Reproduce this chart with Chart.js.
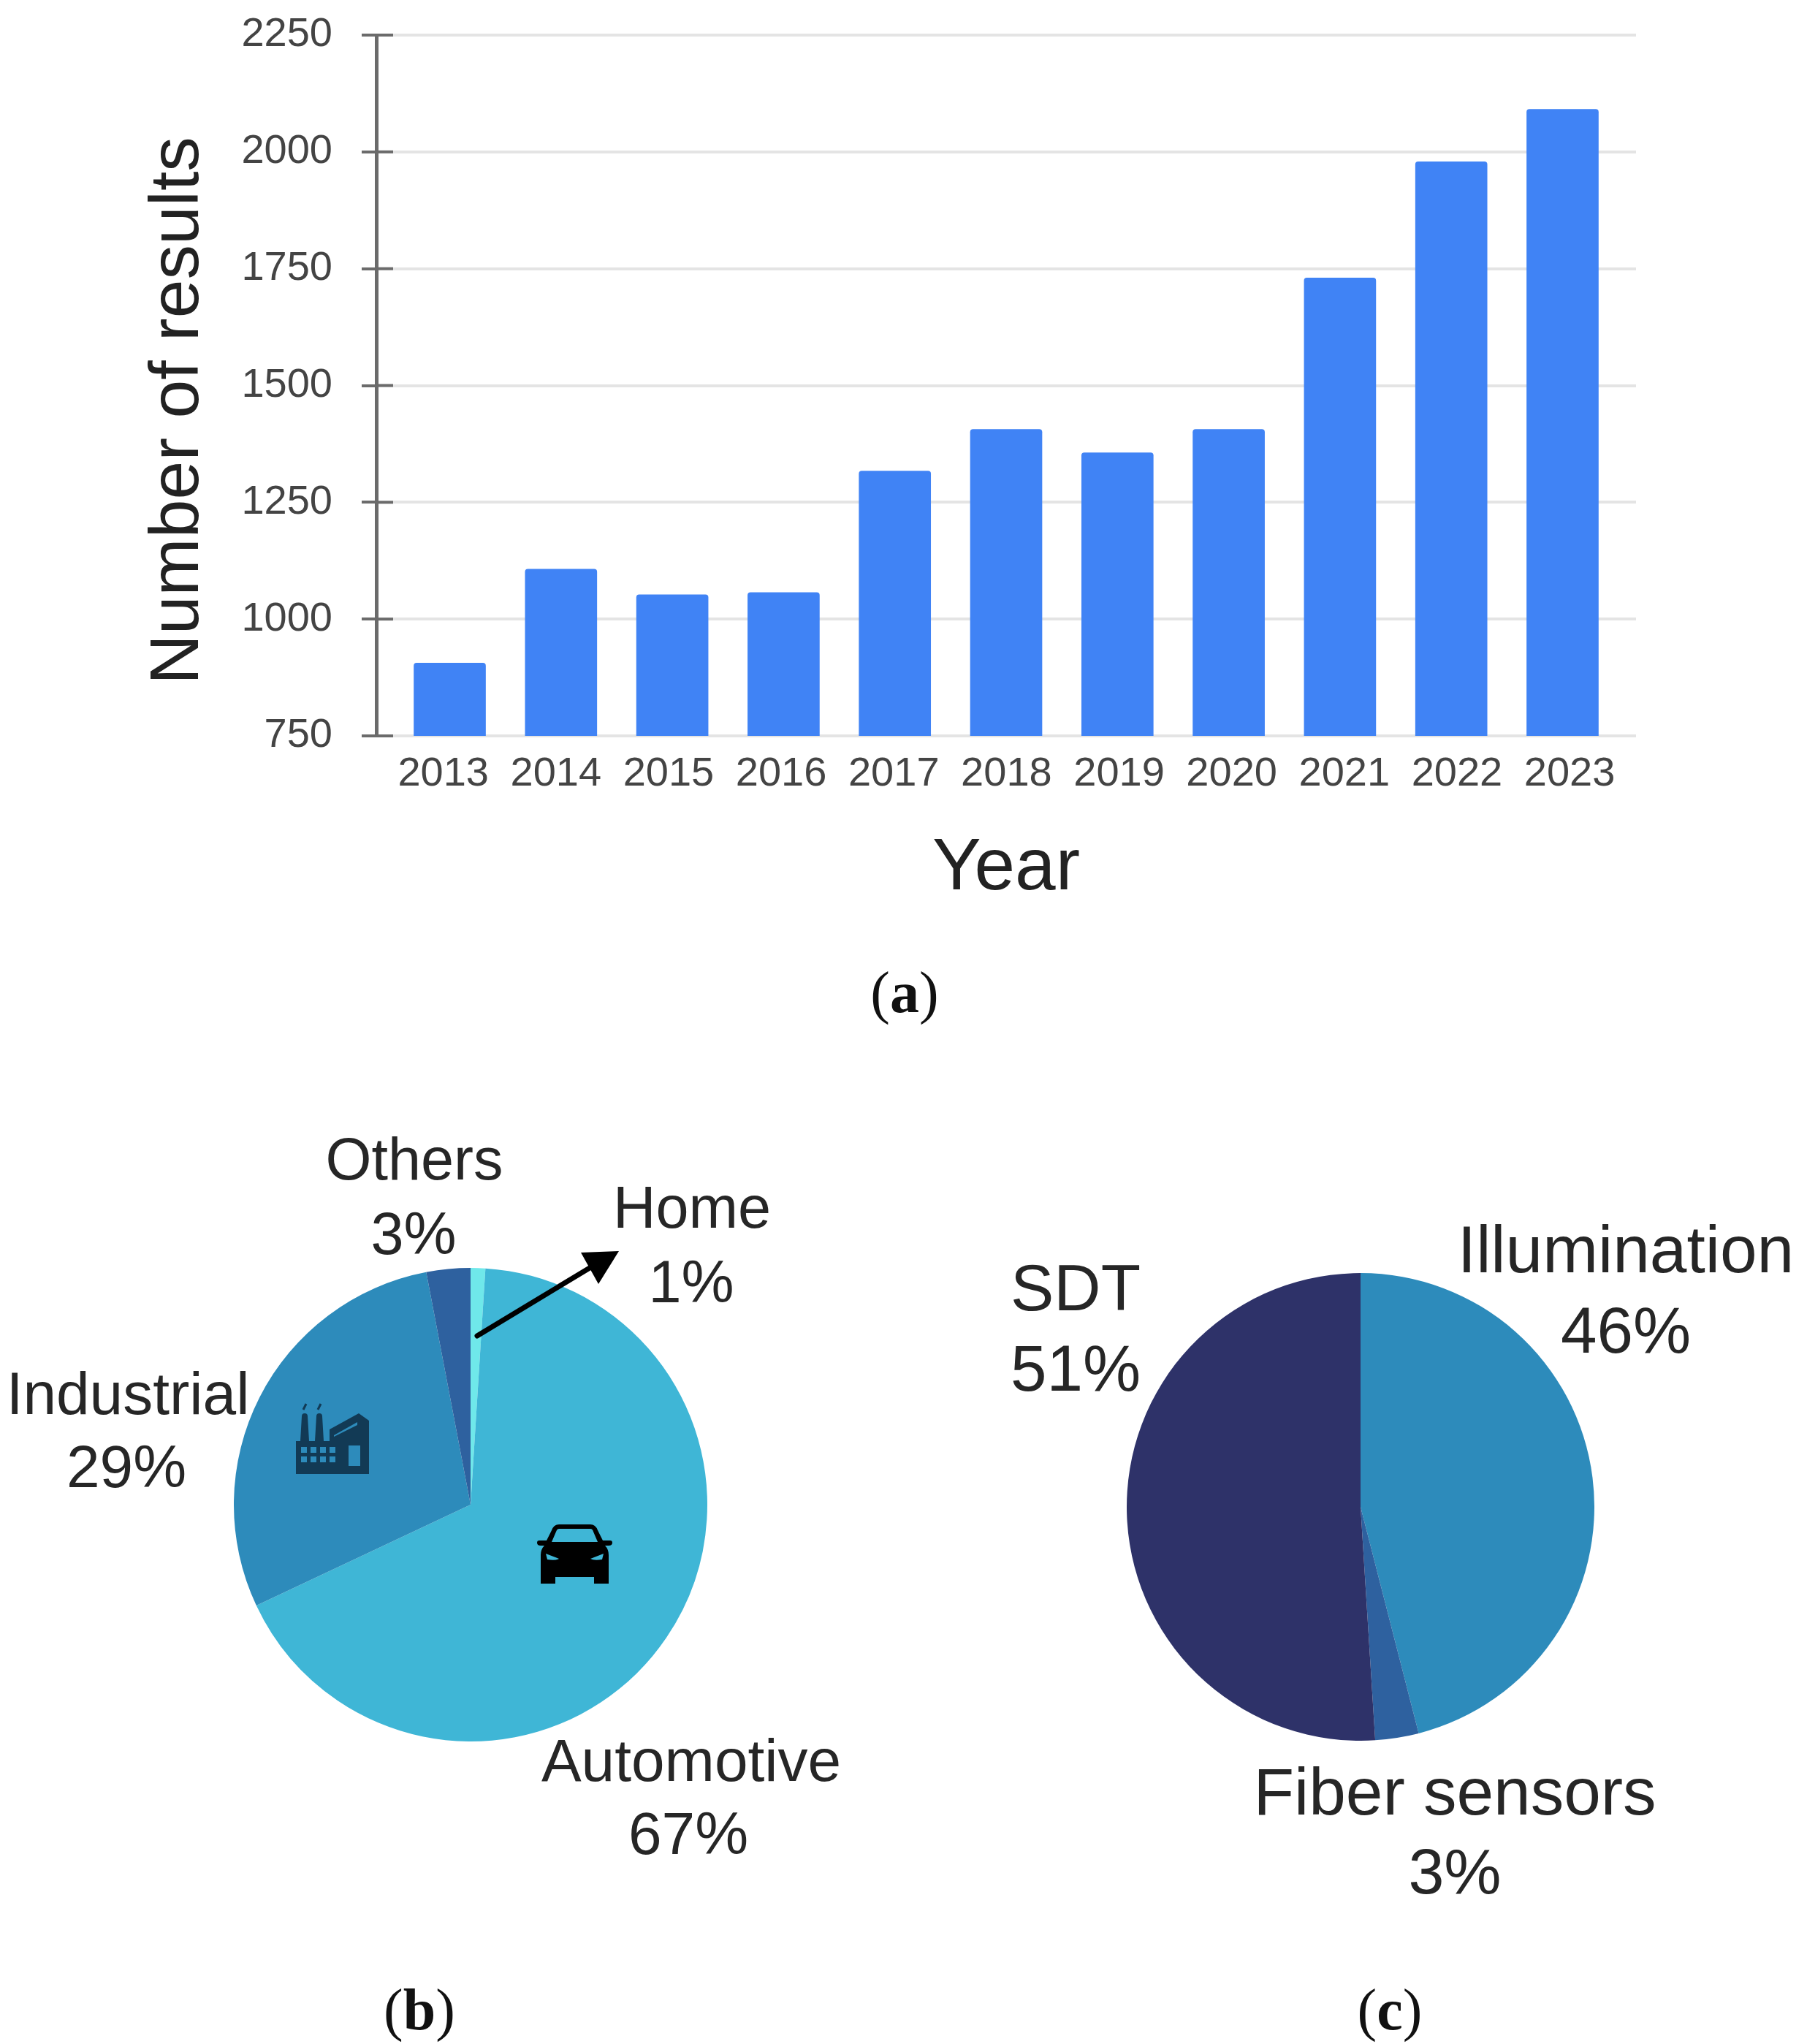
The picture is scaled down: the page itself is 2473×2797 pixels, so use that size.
<!DOCTYPE html>
<html>
<head>
<meta charset="utf-8">
<title>Number of results</title>
<script src="https://cdn.jsdelivr.net/npm/chart.js@4"></script>
<style>
  body { margin: 0; background: #fff; width: 2473px; height: 2797px; position: relative; overflow: hidden; }
  canvas { position: absolute; }
  svg { position: absolute; overflow: visible; }
  .lbl { position: absolute; white-space: nowrap; transform: translate(-50%, -50%); color: #262626;
         font-family: "Liberation Sans", Arial, sans-serif; line-height: 1; }
  .cap { position: absolute; white-space: nowrap; transform: translate(-50%, -50%); color: #111;
         font-family: "Liberation Serif", serif; font-size: 80px; line-height: 1; }
  #yTitle { position: absolute; left: 238px; top: 562px; white-space: nowrap; color: #222;
            transform: translate(-50%, -50%) rotate(-90deg);
            font-family: "Liberation Sans", Arial, sans-serif; font-size: 95px; line-height: 1; }
</style>
</head>
<body>
<canvas id="chartYears" width="2473" height="1300" style="left:0;top:0"></canvas>
<canvas id="chartUses" width="648" height="648" style="left:320px;top:1735px"></canvas>
<canvas id="chartTypes" width="640" height="640" style="left:1542px;top:1742px"></canvas>

<div id="yTitle">Number of results</div>

<!-- arrow to the Home slice -->
<svg style="left:0;top:0" width="2473" height="2797">
  <line x1="653" y1="1828" x2="812" y2="1732" stroke="#000" stroke-width="7" stroke-linecap="round"/>
  <polygon points="847,1712 795,1714 819,1757" fill="#000"/>
</svg>

<!-- car icon -->
<svg style="left:735px;top:2086px" width="103" height="81" viewBox="0 0 103 81">
  <path fill="#000" fill-rule="evenodd" d="M30 0 H73 Q80 0 83 8 L90 22 H100 Q103 22 103 25 Q103 29 98 29 H93 Q98 34 98 42 V81 H78 V72 H25 V81 H5 V42 Q5 34 10 29 H5 Q0 29 0 25 Q0 22 3 22 H13 L20 8 Q23 0 30 0 Z M30 6 Q27 6 26 10 L20 24 H83 L77 10 Q76 6 73 6 Z M12 40 L30 47 Q25 50 14 48 Z M91 40 L73 47 Q78 50 89 48 Z"/>
</svg>

<!-- factory icon -->
<svg style="left:405px;top:1920px" width="100" height="97" viewBox="0 0 100 97">
  <g fill="#123a55">
    <path fill-rule="evenodd" d="M0 52 H100 V97 H0 Z M7 60 V68 H15 V60 Z M20 60 V68 H28 V60 Z M33 60 V68 H41 V60 Z M46 60 V68 H54 V60 Z M7 73 V81 H15 V73 Z M20 73 V81 H28 V73 Z M33 73 V81 H41 V73 Z M46 73 V81 H54 V73 Z M72 58 V86 H88 V58 Z"/>
    <path d="M8 18 Q8 14 12 14 Q16 14 16 18 L18 52 H6 Z"/>
    <path d="M28 18 Q28 14 32 14 Q36 14 36 18 L38 52 H26 Z"/>
    <path fill-rule="evenodd" d="M46 52 V36 L86 14 L100 24 V52 Z M52 44 V46 L84 30 V26 Z"/>
  </g>
  <path d="M10 9 L14 1 M30 9 L34 1" stroke="#123a55" stroke-width="3" fill="none"/>
</svg>

<script>
const years = [2013, 2014, 2015, 2016, 2017, 2018, 2019, 2020, 2021, 2022, 2023];
const results = [906, 1107, 1052, 1057, 1317, 1406, 1356, 1406, 1730, 1979, 2091];
const yTicks = [750, 1000, 1250, 1500, 1750, 2000, 2250];

const useLabels = ["Home", "Automotive", "Industrial", "Others"];
const useValues = [1, 67, 29, 3];
const useColors = ["#6fe8ea", "#3fb6d6", "#2d8bbb", "#2e619f"];

const typeLabels = ["Illumination", "Fiber sensors", "SDT"];
const typeValues = [46, 3, 51];
const typeColors = ["#2d8bbb", "#2e619f", "#2e3269"];

const FONT = '"Liberation Sans", Arial, sans-serif';

// text next to the pies, and the (a) (b) (c) captions
const notes = [
  ["Others", 567, 1586, 81], ["3%", 566, 1688, 81],
  ["Home", 947, 1652, 81], ["1%", 946, 1754, 81],
  ["Industrial", 175, 1907, 82], ["29%", 173, 2007, 82],
  ["Automotive", 946, 2409, 82], ["67%", 942, 2509, 82],
  ["SDT", 1472, 1762, 89], ["51%", 1472, 1872, 89],
  ["Illumination", 2225, 1709, 91], ["46%", 2225, 1820, 89],
  ["Fiber sensors", 1991, 2451, 91], ["3%", 1991, 2561, 88],
];
notes.forEach((n) => {
  const el = document.createElement("div");
  el.className = "lbl";
  el.textContent = n[0];
  el.style.left = n[1] + "px";
  el.style.top = n[2] + "px";
  el.style.fontSize = n[3] + "px";
  document.body.appendChild(el);
});
const captions = [["a", 1238, 1358], ["b", 574, 2750], ["c", 1902, 2750]];
captions.forEach((c) => {
  const el = document.createElement("div");
  el.className = "cap";
  el.innerHTML = "(<b>" + c[0] + "</b>)";
  el.style.left = c[1] + "px";
  el.style.top = c[2] + "px";
  document.body.appendChild(el);
});

// dark tick marks carry on a bit to the right of the axis line
const innerTicks = {
  id: "innerTicks",
  afterDraw(chart) {
    const y = chart.scales.y;
    const ctx = chart.ctx;
    ctx.save();
    ctx.strokeStyle = "#6b6b6b";
    ctx.lineWidth = 4;
    y.ticks.forEach((t) => {
      const py = y.getPixelForValue(t.value);
      ctx.beginPath();
      ctx.moveTo(y.right, py);
      ctx.lineTo(y.right + 23, py);
      ctx.stroke();
    });
    ctx.restore();
  },
};

new Chart(document.getElementById("chartYears"), {
  type: "bar",
  data: {
    datasets: [
      {
        data: years.map((year, i) => ({ x: year, y: results[i] })),
        backgroundColor: "#4083f5",
        barThickness: 98,
        borderRadius: { topLeft: 4, topRight: 4 },
        borderSkipped: "bottom",
      },
    ],
  },
  options: {
    responsive: false,
    animation: false,
    layout: { padding: { top: 48, right: 234, left: 0, bottom: 0 } },
    plugins: { legend: { display: false }, tooltip: { enabled: false } },
    scales: {
      x: { type: "linear", display: false, offset: false, min: 2012.34, max: 2023.66 },
      xLabels: {
        type: "linear",
        axis: "x",
        position: "bottom",
        offset: false,
        min: 2012.405,
        max: 2023.59,
        afterBuildTicks(scale) {
          scale.ticks = years.map((year) => ({ value: year }));
        },
        afterFit(scale) {
          scale.height = 293;
        },
        grid: { display: false },
        border: { display: false },
        ticks: {
          autoSkip: false,
          maxRotation: 0,
          padding: 11,
          color: "#444",
          font: { family: FONT, size: 56 },
          callback: (v) => String(v),
        },
        title: {
          display: true,
          text: "Year",
          color: "#222",
          font: { family: FONT, size: 100 },
          padding: { top: 0, bottom: 51 },
        },
      },
      y: {
        min: 750,
        max: 2250,
        afterBuildTicks(scale) {
          scale.ticks = yTicks.map((v) => ({ value: v }));
        },
        afterFit(scale) {
          scale.width = 515;
          // tick padding would otherwise push the plot area down
          scale.paddingTop = 0;
          scale.paddingBottom = 0;
        },
        grid: { color: "#e4e4e4", lineWidth: 4, tickColor: "#6b6b6b", tickWidth: 4, tickLength: 20 },
        border: { color: "#6b6b6b", width: 5 },
        ticks: {
          padding: 40,
          color: "#444",
          font: { family: FONT, size: 56 },
          callback: (v) => String(v),
        },
      },
    },
  },
  plugins: [innerTicks],
});

const pieOptions = {
  responsive: false,
  animation: false,
  plugins: { legend: { display: false }, tooltip: { enabled: false } },
};

new Chart(document.getElementById("chartUses"), {
  type: "pie",
  data: {
    labels: useLabels,
    datasets: [{ data: useValues, backgroundColor: useColors, borderWidth: 0 }],
  },
  options: pieOptions,
});

new Chart(document.getElementById("chartTypes"), {
  type: "pie",
  data: {
    labels: typeLabels,
    datasets: [{ data: typeValues, backgroundColor: typeColors, borderWidth: 0 }],
  },
  options: pieOptions,
});
</script>
</body>
</html>
